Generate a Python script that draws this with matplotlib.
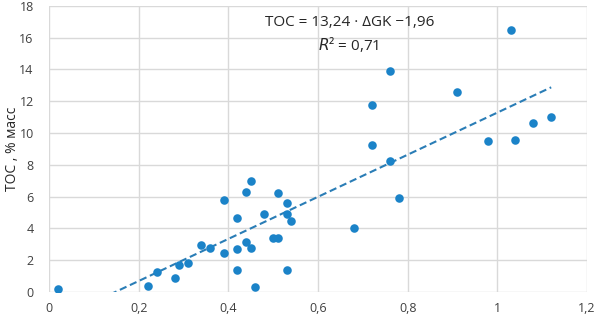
import matplotlib
matplotlib.use("Agg")
from matplotlib import pyplot as plt
import numpy as np

# data
dgk = [0.02, 0.22, 0.24, 0.28, 0.29, 0.31, 0.34, 0.36, 0.39, 0.39,
       0.42, 0.42, 0.42, 0.44, 0.45, 0.44, 0.45, 0.46, 0.48, 0.51,
       0.50, 0.51, 0.53, 0.53, 0.54, 0.53, 0.68, 0.76, 0.78, 0.72,
       0.72, 0.76, 0.91, 0.98, 1.03, 1.04, 1.08, 1.12]
toc = [0.17, 0.38, 1.24, 0.86, 1.68, 1.85, 2.98, 2.78, 5.80, 2.44,
       4.67, 2.67, 1.39, 6.31, 6.96, 3.15, 2.78, 0.32, 4.88, 6.23,
       3.41, 3.39, 5.60, 4.92, 4.44, 1.35, 4.04, 8.26, 5.89, 11.73,
       9.21, 13.92, 12.60, 9.51, 16.49, 9.57, 10.62, 10.98]

slope = 13.24
intercept = -1.96
r2 = 0.71

x_ticks = [0, 0.2, 0.4, 0.6, 0.8, 1, 1.2]
x_ticklabels = ['0', '0,2', '0,4', '0,6', '0,8', '1', '1,2']
y_ticks = [0, 2, 4, 6, 8, 10, 12, 14, 16, 18]

plt.rcParams['font.family'] = ['Open Sans', 'DejaVu Sans']

fig = plt.figure(figsize=(5.96, 3.17), dpi=100)
ax = fig.add_axes([0.0822, 0.079, 0.9028, 0.903])

dot_color = '#1B83C8'
ax.scatter(dgk, toc, s=38, color=dot_color, zorder=3, linewidths=0)

xs = np.array([min(dgk), max(dgk)])
ax.plot(xs, slope * xs + intercept, linestyle=(0, (3.5, 1.8)), color='#2A7DB6',
        linewidth=1.5, zorder=2)

ax.set_xlim(0, 1.2)
ax.set_ylim(0, 18)
ax.set_xticks(x_ticks)
ax.set_xticklabels(x_ticklabels)
ax.set_yticks(y_ticks)
ax.grid(True, color='#D9D9D9', linewidth=1)
ax.set_axisbelow(True)
for s in ax.spines.values():
    s.set_visible(False)
ax.tick_params(length=0, labelsize=9, colors='#404040')
ax.tick_params(axis='y', pad=11)
ax.tick_params(axis='x', pad=7)
ax.set_ylabel('TOC , % масс', fontsize=10, color='#262626')
ax.yaxis.set_label_coords(-0.054, 0.5)

ax.text(0.558, 0.94, 'TOC = 13,24 · ΔGK −1,96',
        transform=ax.transAxes, ha='center', va='center', fontsize=11, color='#262626')
ax.text(0.557, 0.865, '$R$² = ' + f'{r2:.2f}'.replace('.', ','),
        transform=ax.transAxes, ha='center', va='center', fontsize=11, color='#262626')

fig.savefig('out.png', dpi=100)
